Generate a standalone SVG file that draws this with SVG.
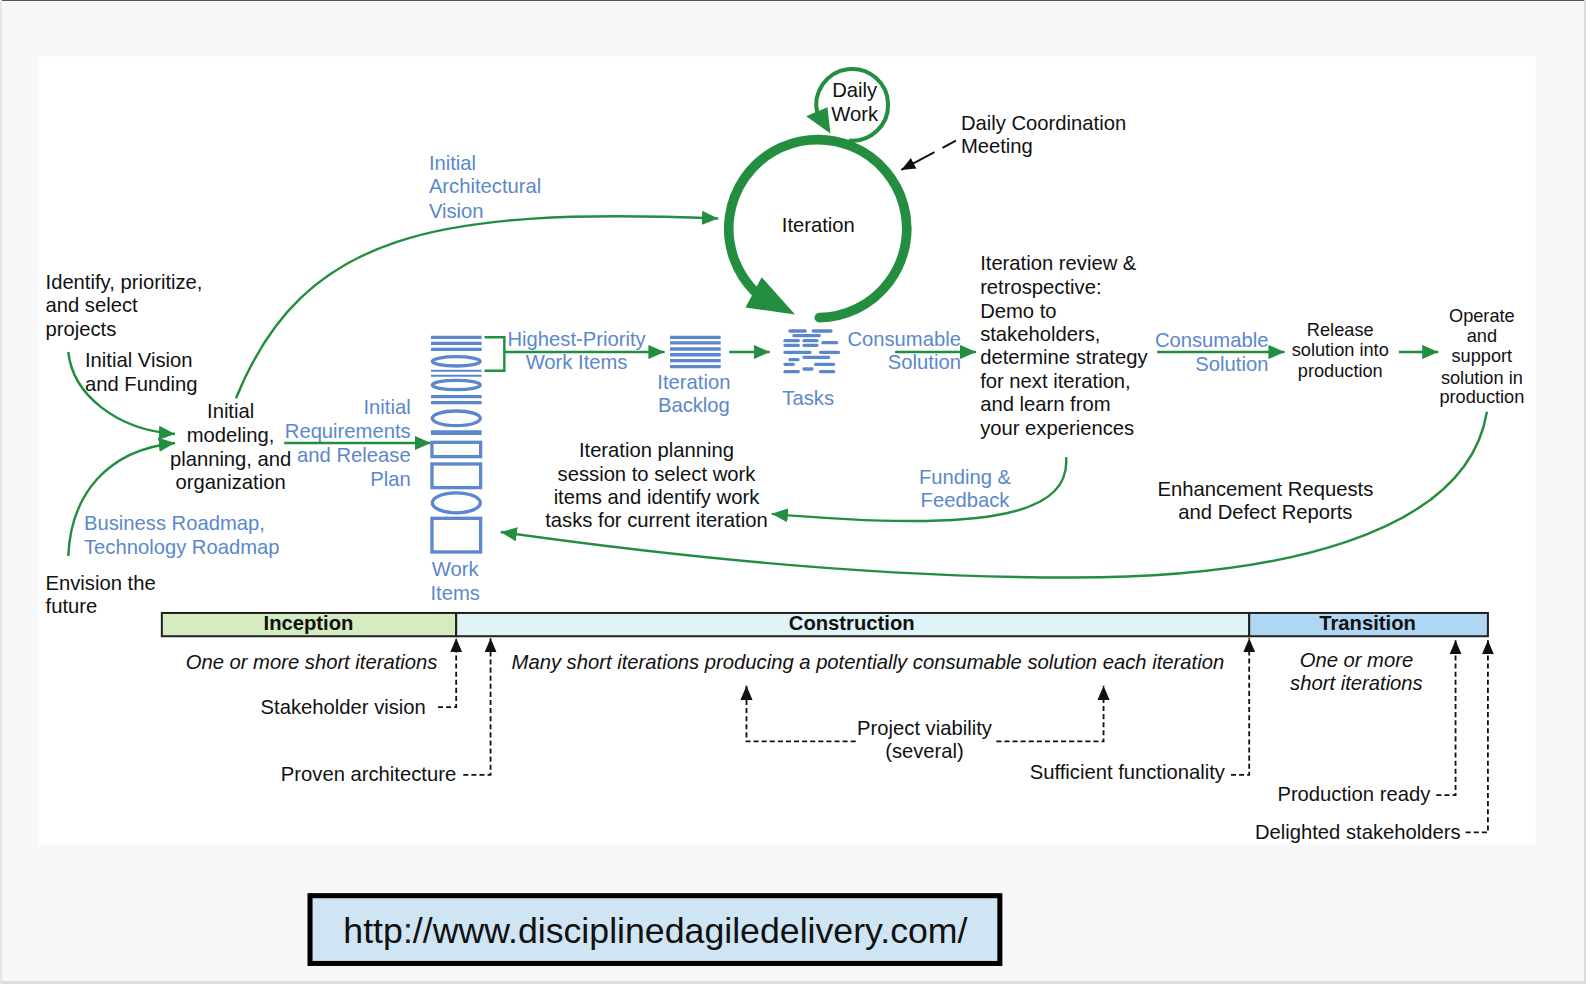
<svg xmlns="http://www.w3.org/2000/svg" width="1586" height="984" viewBox="0 0 1586 984">
<style>
text{font-family:"Liberation Sans",Arial,sans-serif;font-size:20px;fill:#111;transform:translateY(.3px)}
.b{fill:#5b87cc}.m{text-anchor:middle}.e{text-anchor:end}.i{font-style:italic}.s{font-size:18px}.h{font-weight:bold;font-size:20px;text-anchor:middle}
.g{fill:none;stroke:#238e3f;stroke-width:2.4}
.k{fill:none;stroke:#111;stroke-width:1.8;stroke-dasharray:5 3}
.w{fill:none;stroke:#5b87cc;stroke-width:3.300}
.z{fill:none;stroke:#5b87cc;stroke-width:10}
.gf{fill:#238e3f}.kf{fill:#111}
.ph{stroke:#222;stroke-width:2}
</style>
<defs>
<marker id="ga" markerUnits="userSpaceOnUse" markerWidth="17" markerHeight="14" refX="16" refY="7" orient="auto"><path d="M0 0L16 7L0 14Z" fill="#238e3f"/></marker>
<marker id="ka" markerUnits="userSpaceOnUse" markerWidth="14" markerHeight="14" refX="14" refY="6" orient="auto"><path d="M0 0L14 6L0 12Z" fill="#111"/></marker>
</defs>
<rect width="1586" height="984" fill="#f8f8f8"/>
<rect width="1586" height="1" fill="#555"/>
<rect y="981" width="1586" height="3" fill="#ddd"/>
<rect x="1584" width="2" height="984" fill="#ddd"/>
<rect x="0" width="2" height="984" fill="#e6e6e6"/>
<g transform="scale(1.0115)">
<rect x="38" y="56" width="1480" height="779" fill="#fff"/>
<g id="connectors">
<path class="g" marker-end="url(#ga)" d="M233.300 393.700C300 230 430 205 710 216"/>
<path class="g" marker-end="url(#ga)" d="M67.500 348C72 390 115 425 173 429"/>
<path class="g" marker-end="url(#ga)" d="M67.500 549.700C70 490 105 445 173 438"/>
<path class="g" marker-end="url(#ga)" d="M281 438H426"/>
<path class="g" d="M479 333.500H498.600V366.500H479"/>
<path class="g" marker-end="url(#ga)" d="M498.600 348H657"/>
<path class="g" marker-end="url(#ga)" d="M721 348H761"/>
<path class="g" marker-end="url(#ga)" d="M885 348H965"/>
<path class="g" marker-end="url(#ga)" d="M1144 348H1270"/>
<path class="g" marker-end="url(#ga)" d="M1383 348H1422"/>
<path class="g" marker-end="url(#ga)" d="M1054 452C1058 505 990 528 763 508"/>
<path class="g" marker-end="url(#ga)" d="M1470 407C1450 530 1260 571 1060 571C860 571 650 548 495 526"/>
<path class="k" style="stroke-dasharray:15 9 40;stroke-width:2" marker-end="url(#ka)" d="M945 139L891 168"/>
<path class="k" marker-end="url(#ka)" d="M433 699H451V631"/>
<path class="k" marker-end="url(#ka)" d="M458 766H485V631"/>
<path class="k" marker-end="url(#ka)" d="M846 733H738V678"/>
<path class="k" marker-end="url(#ka)" d="M985 733H1091V678"/>
<path class="k" marker-end="url(#ka)" d="M1217 766H1235V631"/>
<path class="k" marker-end="url(#ka)" d="M1420 786H1439V633"/>
<path class="k" marker-end="url(#ka)" d="M1449 823H1471V633"/>
</g>
<g id="iteration">
<path d="M810 314A88 88 0 1 0 746 288" fill="none" stroke="#238e3f" stroke-width="9.500" stroke-linecap="round"/>
<path class="gf" d="M753 274L737 304L786 311Z"/>
<text class="m" x="809" y="229">Iteration</text>
</g>
<g id="daily-work">
<path d="M839 139A35.500 35.500 0 1 0 808 112" fill="none" stroke="#238e3f" stroke-width="4"/>
<path class="gf" d="M797 115L818 106L821 132Z"/>
<text class="m" x="845" y="96">Daily</text>
<text class="m" x="845" y="119">Work</text>
</g>
<g id="daily-meeting">
<text x="950" y="128">Daily Coordination</text>
<text x="950" y="151">Meeting</text>
</g>
<g id="identify"><text x="45" y="285">Identify, prioritize,</text><text x="45" y="308">and select</text><text x="45" y="332">projects</text></g>
<g id="vision-funding"><text x="84" y="363">Initial Vision</text><text x="84" y="386">and Funding</text></g>
<g id="initial-modeling"><text class="m" x="228" y="413">Initial</text><text class="m" x="228" y="437">modeling,</text><text class="m" x="228" y="460">planning, and</text><text class="m" x="228" y="483">organization</text></g>
<g id="requirements"><text class="b e" x="406" y="409">Initial</text><text class="b e" x="406" y="433">Requirements</text><text class="b e" x="406" y="456">and Release</text><text class="b e" x="406" y="480">Plan</text></g>
<g id="roadmap"><text class="b" x="83" y="524">Business Roadmap,</text><text class="b" x="83" y="547">Technology Roadmap</text></g>
<g id="envision"><text x="45" y="583">Envision the</text><text x="45" y="606">future</text></g>
<g id="arch-vision"><text class="b" x="424" y="168">Initial</text><text class="b" x="424" y="191">Architectural</text><text class="b" x="424" y="215">Vision</text></g>
<g id="work-items">
<g transform="translate(415.200 321.300) scale(.3295)">
<path class="z" d="M33 37H185M33 55H185M33 73H185M33 215H185M33 233H185"/>
<path class="z" style="stroke-width:6" d="M33 137H185M33 152H185"/>
<path class="z" style="stroke-width:14" d="M33 323H185"/>
<ellipse class="z" cx="109" cy="109" rx="72" ry="14"/>
<ellipse class="z" cx="109" cy="180" rx="72" ry="14"/>
<ellipse class="z" cx="109" cy="280" rx="72" ry="22"/>
<rect class="z" x="36" y="352" width="146" height="43"/>
<rect class="z" x="36" y="417" width="146" height="71"/>
<ellipse class="z" cx="109" cy="533.500" rx="72" ry="30"/>
<rect class="z" x="36" y="580" width="146" height="101"/>
</g>
<text class="b m" x="450" y="569">Work</text><text class="b m" x="450" y="593">Items</text>
</g>
<g id="highest-priority"><text class="b m" x="570" y="342">Highest-Priority</text><text class="b m" x="570" y="365">Work Items</text></g>
<g id="iteration-backlog">
<path class="w" d="M662.400 333.500H712.500M662.400 339H712.500M662.400 345H712.500M662.400 350.700H712.500M662.400 356.600H712.500M662.400 362.500H712.500"/>
<text class="b m" x="686" y="384">Iteration</text><text class="b m" x="686" y="407">Backlog</text>
</g>
<g id="tasks">
<path class="z" transform="translate(761.200 316.400) scale(.3295)" stroke-linecap="round" d="M60 33H106M130 33H183M72 47H148M45 62H85M102 62H141M159 68H200M45 76H85M102 76H141M45 97H120M152 97H206M102 112H176M60 119H84M45 133H70M137 133H191M102 147H126M45 155H85M152 155H191"/>
<text class="b m" x="799" y="400">Tasks</text>
</g>
<g id="consumable-1"><text class="b e" x="950" y="342">Consumable</text><text class="b e" x="950" y="365">Solution</text></g>
<g id="review"><text x="969" y="267">Iteration review &amp;</text><text x="969" y="290">retrospective:</text><text x="969" y="314">Demo to</text><text x="969" y="337">stakeholders,</text><text x="969" y="360">determine strategy</text><text x="969" y="383">for next iteration,</text><text x="969" y="406">and learn from</text><text x="969" y="430">your experiences</text></g>
<g id="consumable-2"><text class="b e" x="1254" y="343">Consumable</text><text class="b e" x="1254" y="366">Solution</text></g>
<g id="release"><text class="m s" x="1325" y="332">Release</text><text class="m s" x="1325" y="352">solution into</text><text class="m s" x="1325" y="372">production</text></g>
<g id="operate"><text class="m s" x="1465" y="318">Operate</text><text class="m s" x="1465" y="338">and</text><text class="m s" x="1465" y="358">support</text><text class="m s" x="1465" y="379">solution in</text><text class="m s" x="1465" y="398">production</text></g>
<g id="funding"><text class="b m" x="954" y="478">Funding &amp;</text><text class="b m" x="954" y="501">Feedback</text></g>
<g id="enhancement"><text class="m" x="1251" y="490">Enhancement Requests</text><text class="m" x="1251" y="513">and Defect Reports</text></g>
<g id="planning"><text class="m" x="649" y="452">Iteration planning</text><text class="m" x="649" y="475">session to select work</text><text class="m" x="649" y="498">items and identify work</text><text class="m" x="649" y="521">tasks for current iteration</text></g>
<g id="inception"><rect class="ph" x="160" y="606" width="291" height="23" fill="#d5ecc0"/><text class="h" x="305" y="623">Inception</text></g>
<g id="construction"><rect class="ph" x="451" y="606" width="784" height="23" fill="#e0f3f6"/><text class="h" x="842" y="623">Construction</text></g>
<g id="transition"><rect class="ph" x="1235" y="606" width="236" height="23" fill="#afd7f3"/><text class="h" x="1352" y="623">Transition</text></g>
<text class="i m" x="308" y="661">One or more short iterations</text>
<text class="i m" x="858" y="661">Many short iterations producing a potentially consumable solution each iteration</text>
<text class="i m" x="1341" y="659">One or more</text><text class="i m" x="1341" y="682">short iterations</text>
<g id="stakeholder-vision"><text class="e" x="421" y="706">Stakeholder vision</text></g>
<g id="proven-architecture"><text class="e" x="451" y="772">Proven architecture</text></g>
<g id="project-viability"><text class="m" x="914" y="726">Project viability</text><text class="m" x="914" y="749">(several)</text></g>
<g id="sufficient"><text class="e" x="1211" y="770">Sufficient functionality</text></g>
<g id="production-ready"><text class="e" x="1414" y="792">Production ready</text></g>
<g id="delighted"><text class="e" x="1444" y="829">Delighted stakeholders</text></g>
<g id="url"><rect x="306.500" y="885.500" width="682" height="67" fill="#cfe5f4" stroke="#000" stroke-width="5"/><text class="m" x="648" y="932" style="font-size:35.300px">http://www.disciplinedagiledelivery.com/</text></g>
</g>
</svg>
